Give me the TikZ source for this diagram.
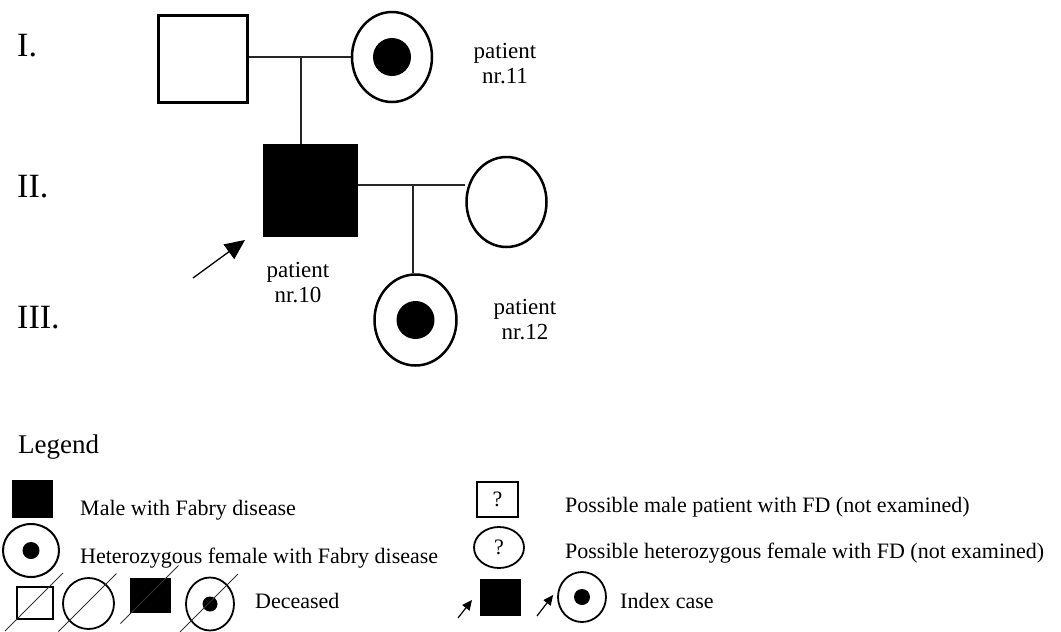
\documentclass[tikz,border=0pt]{standalone}
\usepackage{fontspec}
\setmainfont{Liberation Serif}
\usetikzlibrary{positioning}
\usetikzlibrary{arrows.meta}
\usetikzlibrary{shapes.geometric}

\tikzset{
  male/.style={draw,rectangle,inner sep=0pt,line width=2.5pt},
  affected/.style={draw,fill=black,rectangle,inner sep=0pt,line width=1pt},
  female/.style={draw,ellipse,inner sep=0pt,line width=2.5pt},
  carrier/.style={female,path picture={\fill[black] (path picture bounding box.center) circle (#1);}},
  link/.style={line width=1.3pt,black!85},
  gen/.style={font=\fontsize{34}{36}\selectfont,inner sep=0pt,anchor=base west},
  txt/.style={font=\fontsize{22}{25}\selectfont,inner sep=0pt,anchor=base west},
  lbl/.style={font=\fontsize{23}{25}\selectfont,align=center,inner sep=0pt},
  index/.style={-{Triangle[length=20pt,width=18pt]},line width=1.3pt},
  smallindex/.style={-{Triangle[length=10pt,width=9pt]},line width=1.2pt}
}

\begin{document}
\begin{tikzpicture}[x=1pt,y=-1pt]
      \useasboundingbox (0,0) rectangle (1061,632);

      % generations
      \node[gen] (gI) at (17,56) {I.};
      \node[gen] (gII) at (17,197) {II.};
      \node[gen] (gIII) at (17,328) {III.};

      % pedigree
      \node[male,minimum width=89pt,minimum height=87pt] (I1) at (203,59) {};
      \node[carrier=19pt,minimum width=80pt,minimum height=90pt] (I2) at (392,57) {};
      \node[affected,minimum width=94pt,minimum height=92pt] (II1) at (310.5,190.5) {};
      \node[female,minimum width=80pt,minimum height=90pt] (II2) at (506.5,202) {};
      \node[carrier=19pt,minimum width=82pt,minimum height=91pt] (III1) at (415.5,320) {};

      \coordinate (m1) at (301,57);
      \coordinate (m2) at (413,185);
      \draw[link] (I1.east |- m1) -- (I2.west |- m1);
      \draw[link] (m1) -- (m1 |- II1.north);
      \draw[link] (II1.east |- m2) -- (II2.west |- m2);
      \draw[link] (m2) -- (m2 |- III1.north);

      \coordinate (a0) at (193,278);
      \draw[index] (a0) -- ([shift={(-18,3)}]II1.south west);

      \node[lbl] (p11) at (505,64) {patient\\nr.11};
      \node[lbl] (p10) at (298,282.5) {patient\\nr.10};
      \node[lbl] (p12) at (525,320) {patient\\nr.12};

      % legend
      \node[txt,font=\fontsize{27}{30}\selectfont] (leg) at (18,453) {Legend};

      \node[affected,minimum width=40pt,minimum height=37pt] (L1) at (32,498.5) {};
      \node[txt] (tL1) at (80,515) {Male with Fabry disease};
      \node[carrier=8.5pt,line width=2pt,minimum width=56pt,minimum height=53pt] (L2) at (31,550.5) {};
      \node[txt] (tL2) at (80,563) {Heterozygous female with Fabry disease};

      \node[male,line width=1.8pt,minimum width=36pt,minimum height=32pt] (D1) at (35,603) {};
      \node[female,line width=1.8pt,minimum width=51pt,minimum height=51pt] (D2) at (88.5,603.5) {};
      \node[affected,minimum width=40pt,minimum height=34pt] (D3) at (150.5,595.5) {};
      \node[carrier=7.5pt,line width=1.8pt,minimum width=48pt,minimum height=53pt] (D4) at (210,604) {};
      \foreach \n in {D1,D2,D3,D4}
        \draw[line width=1pt,black!80] ([shift={(-30,28)}]\n.center) -- ([shift={(28,-30)}]\n.center);
      \node[txt] (tD) at (255,608) {Deceased};

      \node[male,line width=1.8pt,minimum width=41pt,minimum height=35pt,font=\fontsize{22}{24}\selectfont] (Q1) at (497.5,499.5) {?};
      \node[txt] (tQ1) at (565,512) {Possible male patient with FD (not examined)};
      \node[female,line width=1.8pt,minimum width=50pt,minimum height=41pt,font=\fontsize{22}{24}\selectfont] (Q2) at (499,547.5) {?};
      \node[txt] (tQ2) at (565,558) {Possible heterozygous female with FD (not examined)};

      \node[affected,minimum width=40pt,minimum height=36pt] (X1) at (500.5,597.5) {};
      \node[carrier=8pt,line width=1.8pt,minimum width=48pt,minimum height=50pt] (X2) at (582,597) {};
      \coordinate (x1) at (458,618);
      \coordinate (x2) at (537,616);
      \draw[smallindex] (x1) -- ([shift={(-8,-16)}]X1.south west);
      \draw[smallindex] (x2) -- ([shift={(-4,-2)}]X2.west);
      \node[txt] (tX) at (620,608) {Index case};
    \end{tikzpicture}
\end{document}
